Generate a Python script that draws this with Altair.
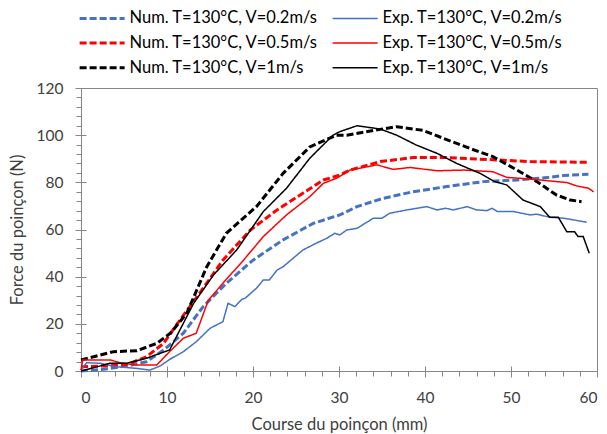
import altair as alt
import pandas as pd

# ---- data ----
# legend order is column-major: Num. series in column 1, Exp. series in column 2
series_names = [
    "Num. T=130°C, V=0.2m/s",
    "Num. T=130°C, V=0.5m/s",
    "Num. T=130°C, V=1m/s",
    "Exp. T=130°C, V=0.2m/s",
    "Exp. T=130°C, V=0.5m/s",
    "Exp. T=130°C, V=1m/s",
]

num02_x = [0, 2.6, 5.3, 7.6, 9.6, 11.9, 14.2, 16.9, 20, 23.5, 27, 30.1, 32.1, 35.1, 38.6, 42.5, 46.8, 50.7, 54.2, 56.1, 59]
num02_y = [0, 0.7, 2.1, 3.9, 8.9, 16, 27.3, 37.2, 47, 55.6, 62.6, 66.2, 69.7, 73.2, 76, 78.2, 80.3, 81, 82, 82.9, 83.4]

num05_x = [0, 2.6, 5.3, 7.6, 9.6, 11.5, 13.8, 16.5, 19.7, 22.8, 25.8, 28.2, 30.1, 31.3, 34.8, 38.6, 42.5, 48.3, 52.2, 59]
num05_y = [1.8, 2.1, 2.7, 6, 11.7, 21.6, 33, 47, 59.8, 68.3, 75.4, 81, 83.1, 85.2, 88.8, 90.5, 90.5, 89.5, 88.8, 88.5]

num1_x = [0, 3.8, 6.5, 8.8, 10.4, 12.3, 14.6, 16.9, 20.4, 23.5, 26.6, 29.7, 30.9, 34, 36.7, 39.8, 42.1, 45.2, 47.9,
          50.7, 53, 55.3, 56.9, 58.2]
num1_y = [4.7, 8.2, 8.6, 11.7, 16, 24.5, 44, 58.4, 69.7, 83.8, 95, 100, 100, 102, 103.6, 102, 98.7, 94.4, 90.9,
          85.2, 80.3, 74.6, 72.5, 71.8]

exp02_x = [0, 0.65, 2.2, 4.1, 6.5, 8, 9.2, 10.3, 11.9, 13.4, 15, 16.5, 17.1, 17.9, 18.7, 19.1, 20.4, 21.2, 21.9,
           22.8, 23.5, 25.8, 27.3, 28.6, 29.5, 30.1, 30.9, 32.1, 34, 35, 35.9, 37.9, 40.2, 41.4, 42.4, 43.3, 44.9,
           46, 47.2, 47.8, 48.4, 50.3, 52.2, 53, 54.5, 56.1, 58.8]
exp02_y = [0.4, 3.5, 3.3, 1.8, 1.1, 0.4, 2.1, 4.9, 8.2, 12.4, 18.1, 20.9, 28.7, 27.3, 30.4, 30.9, 35.1, 38.6, 38.6,
           42.8, 44.2, 51.3, 54.1, 56.3, 58.4, 57.7, 59.8, 60.5, 64.8, 64.8, 66.9, 68.3, 69.7, 68.3, 69, 68.3, 69.7,
           68.3, 68, 69, 67.6, 67.6, 66.2, 66.5, 65.2, 64.8, 63.1]

exp05_x = [0, 0.2, 3.4, 4.5, 6.5, 8.8, 10.3, 11.9, 13.4, 14.8, 16.5, 18.9, 21.2, 23.9, 26.6, 28.2, 29.7, 31.3, 34.4,
           36.3, 38.3, 41.4, 44.5, 47.9, 49.5, 52.2, 56.5, 57.6, 59, 59.6]
exp05_y = [0.4, 4.7, 4.7, 3.5, 2.5, 2.5, 8.2, 13.9, 16, 30, 37.2, 47, 57, 66.2, 73.9, 79.6, 81.7, 85.2, 87.4,
           85.5, 86.3, 84.9, 85.2, 84.5, 82.1, 81.4, 79.9, 78.5, 77.5, 76]

exp1_x = [0, 3.4, 5.3, 7.6, 10.3, 11.5, 13.1, 15.4, 18.1, 21.2, 23.9, 26.6, 29.3, 30.1, 32.1, 34.8, 36.7, 39, 41.4,
          43.7, 46.4, 48.1, 49.5, 51.4, 53.4, 54.5, 55.5, 56.5, 57.4, 57.8, 58.4, 59.1]
exp1_y = [0, 3.3, 3.3, 5.4, 8.9, 17.4, 28.7, 40.7, 51.3, 67.6, 77.5, 90.2, 100, 101.5, 104, 102.6, 100, 95.8, 92.3,
          88, 83.8, 80.3, 78.9, 72.5, 69.7, 65.2, 65.2, 59, 59, 57, 57, 49.9]

x_major = [0, 10, 20, 30, 40, 50, 60]
x_minor = list(range(0, 61, 2))
y_major = [0, 20, 40, 60, 80, 100, 120]
y_minor = list(range(0, 121, 4))

# ---- build table ----
xs = [num02_x, num05_x, num1_x, exp02_x, exp05_x, exp1_x]
ys = [num02_y, num05_y, num1_y, exp02_y, exp05_y, exp1_y]
rows = []
for name, xv, yv in zip(series_names, xs, ys):
    for i, (a, b) in enumerate(zip(xv, yv)):
        rows.append({"series": name, "x": a, "y": b, "i": i})
df = pd.DataFrame(rows)

BLUE, RED, BLACK = "#4472C4", "#FF0000", "#000000"
colors = [BLUE, RED, BLACK, BLUE, RED, BLACK]
dashes = [[7, 3], [7, 3], [7, 3], [1, 0], [1, 0], [1, 0]]
widths = [3, 3, 3, 1.5, 1.5, 1.5]

FONT = "Lato"
W, H = 516, 283
xscale = alt.Scale(domain=[0, 60], nice=False)
yscale = alt.Scale(domain=[0, 120], nice=False)

lines = alt.Chart(df).mark_line().encode(
    x=alt.X("x:Q", scale=xscale,
            axis=alt.Axis(title="Course du poinçon (mm)", values=x_major, tickSize=6,
                          labelPadding=13, titleY=58, titleBaseline="alphabetic",
                          orient="bottom")),
    y=alt.Y("y:Q", scale=yscale,
            axis=alt.Axis(title="Force du poinçon (N)", values=y_major, tickSize=6,
                          labelPadding=12, titleX=-64, titleY=H / 2,
                          titleBaseline="middle", orient="left")),
    color=alt.Color("series:N", sort=series_names,
                    scale=alt.Scale(domain=series_names, range=colors),
                    legend=alt.Legend(title=None, orient="none", legendX=-4, legendY=-78,
                                      columns=2, symbolType="M-1,0H7", symbolSize=126.5,
                                      labelFont=FONT, labelFontSize=16.5, labelColor="#000000",
                                      labelOffset=36, columnPadding=10, rowPadding=7.7,
                                      padding=0, labelLimit=400)),
    strokeDash=alt.StrokeDash("series:N", sort=series_names,
                              scale=alt.Scale(domain=series_names, range=dashes)),
    strokeWidth=alt.StrokeWidth("series:N", sort=series_names,
                                scale=alt.Scale(type="ordinal", domain=series_names, range=widths)),
    order="i:Q",
)

minor = alt.Chart(df).mark_line(opacity=0).encode(
    x=alt.X("x:Q", scale=xscale,
            axis=alt.Axis(title=None, values=x_minor, labels=False, domain=False,
                          tickSize=5, orient="bottom")),
    y=alt.Y("y:Q", scale=yscale,
            axis=alt.Axis(title=None, values=y_minor, labels=False, domain=False,
                          tickSize=5, orient="left")),
    detail="series:N",
)

inner = alt.Chart(df).mark_line(opacity=0).encode(
    x=alt.X("x:Q", scale=xscale,
            axis=alt.Axis(title=None, values=x_major, labels=False, domain=False,
                          tickSize=5, orient="top", offset=-H)),
    y=alt.Y("y:Q", scale=yscale,
            axis=alt.Axis(title=None, values=y_major, labels=False, domain=False,
                          tickSize=5, orient="right", offset=-W)),
    detail="series:N",
)

chart = alt.layer(lines, minor, inner).resolve_axis(
    x="independent", y="independent"
).properties(
    width=W, height=H,
    autosize=alt.AutoSizeParams(type="none"),
    padding={"left": 73, "top": 80, "right": 2, "bottom": 63},
).configure_view(
    stroke="#868686", strokeWidth=1
).configure_axis(
    grid=False, domainColor="#868686", tickColor="#868686",
    labelFont=FONT, labelFontSize=15.5, labelColor="#404040",
    titleFont=FONT, titleFontSize=16.5, titleColor="#404040", titleFontWeight="normal",
)

chart.save("out.html", embed_options={"renderer": "svg", "actions": False})
